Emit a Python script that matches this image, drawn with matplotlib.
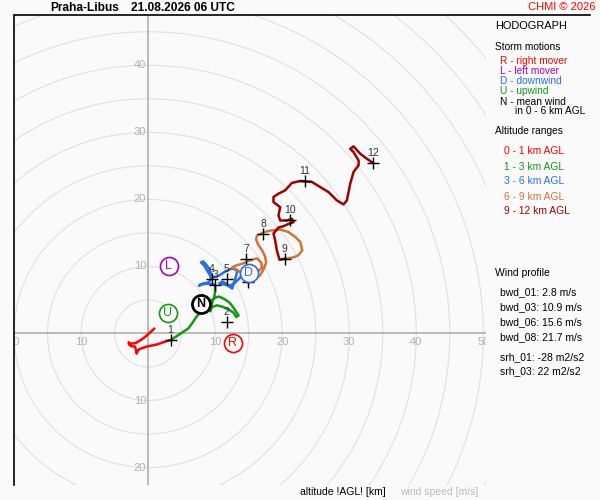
import matplotlib
matplotlib.use("Agg")
import matplotlib.pyplot as plt
from matplotlib.lines import Line2D

plt.rcParams['font.family'] = ['Liberation Sans', 'DejaVu Sans']

# hodograph trace per altitude layer, u / v in m/s
u_0_1 = [0.9, 0.3, -0.2, -0.75, -1.2, -1.8, -2.2, -2.7, -2.9, -2.85, -2.5, -1.95,
         -1.8, -1.7, -1.5, -1.2, -0.2, 0.55, 1.3, 2.3, 3.4]
v_0_1 = [0.7, 0.15, -0.3, -0.75, -1.05, -1.4, -1.5, -1.5, -1.3, -1.65, -1.9, -1.95,
         -2.5, -3.0, -2.5, -2.3, -1.95, -1.8, -1.65, -1.3, -0.95]

u_1_3 = [3.4, 4.2, 5.1, 6.0, 6.55, 7.15, 7.75, 8.5, 8.95, 9.4, 10.0, 10.6, 11.35,
         12.1, 12.55, 13.0, 13.5, 13.15, 12.7, 11.95, 11.2, 10.3, 9.55, 9.25, 9.4,
         9.55, 9.85, 10.0, 10.0]
v_1_3 = [-0.95, -0.45, 0.15, 0.75, 1.5, 2.4, 3.15, 3.9, 4.5, 4.9, 5.35, 5.5, 5.15,
         4.65, 4.1, 3.45, 2.7, 2.45, 3.15, 3.6, 3.95, 4.2, 3.95, 3.3, 4.05,
         4.6, 5.35, 6.25, 7.15]

u_3_6 = [10.0, 9.7, 8.5, 7.75, 7.6, 8.2, 8.95, 9.4, 9.25, 8.8, 8.35, 7.9, 8.2, 8.65,
         9.1, 9.4, 9.55, 10.15, 10.6, 11.05, 11.8, 12.55, 13.3, 13.15, 12.85, 12.55,
         12.1, 11.65, 11.05, 10.6, 11.35, 12.25, 13.0, 13.75, 14.05, 14.6, 14.9, 14.9]
v_3_6 = [7.15, 7.4, 7.4, 7.3, 7.1, 7.45, 7.6, 8.05, 8.65, 9.4, 10.15, 10.6, 10.75, 10.3,
         9.7, 8.95, 8.35, 8.5, 8.65, 8.95, 9.4, 9.7, 9.4, 8.65, 7.75, 6.7,
         7.0, 7.45, 7.75, 7.45, 7.3, 7.15, 7.6, 8.35, 9.1, 8.8, 7.9, 7.6]

u_6_9 = [14.9, 14.35, 13.45, 12.55, 13.15, 14.2, 15.2, 16.25, 16.85, 17.0, 16.4, 15.95,
         16.7, 17.3, 17.6, 17.45, 17.0, 16.4, 16.1, 16.25, 17.15, 18.2, 19.7, 20.9,
         21.95, 22.7, 23.0, 22.4, 21.65, 20.9, 20.45]
v_6_9 = [7.6, 8.5, 9.4, 9.85, 10.15, 10.45, 10.9, 11.2, 10.6, 9.85, 9.25, 8.2,
         8.65, 9.7, 10.6, 11.5, 12.4, 13.3, 14.05, 14.6, 15.05, 15.35, 15.5, 15.15,
         14.4, 13.65, 12.4, 11.65, 11.35, 11.2, 11.15]

u_9_12 = [20.45, 19.6, 19.2, 18.95, 18.7, 19.45, 20.2, 20.95, 21.7, 21.45, 20.7, 19.7,
          19.45, 19.7, 18.7, 18.7, 19.45, 20.45, 21.45, 22.7, 24.45, 25.65, 26.9,
          28.15, 29.15, 29.65, 30.15, 30.65, 31.4, 31.4, 30.65, 30.15, 30.65, 31.65,
          32.65, 33.6]
v_9_12 = [11.15, 11.0, 12.4, 13.9, 14.9, 15.8, 16.0, 16.35, 16.6, 17.1, 16.85, 16.85,
          17.6, 18.85, 19.6, 20.35, 20.85, 21.35, 22.45, 22.75, 22.6, 21.85, 21.1,
          19.85, 19.25, 19.85, 22.35, 24.1, 25.1, 25.8, 27.05, 27.55, 27.9, 26.8,
          26.05, 25.4]

layers = [
    (u_0_1, v_0_1, '#ff0000'),
    (u_1_3, v_1_3, '#119911'),
    (u_3_6, v_3_6, '#2a6fe0'),
    (u_6_9, v_6_9, '#d27438'),
    (u_9_12, v_9_12, '#a00000'),
]

# km markers
km_labels = ['1', '2', '3', '4', '5', '6', '7', '8', '9', '10', '11', '12']
km_u = [3.36, 11.75, 10.0, 9.5, 11.7, 14.9, 14.6, 17.2, 20.4, 21.2, 23.4, 33.6]
km_v = [-0.94, 1.69, 7.16, 8.06, 8.06, 7.66, 11.15, 14.8, 11.15, 16.9, 22.7, 25.4]

# storm motions
storm_letters = ['R', 'L', 'D', 'U', 'N']
storm_u = [12.6, 3.05, 15.0, 2.95, 7.85]
storm_v = [-1.4, 10.1, 9.05, 3.05, 4.35]
storm_colors = ['#ff0000', '#aa00bb', '#2a6fe0', '#119911', '#000000']

ring_speeds = [5, 10, 15, 20, 25, 30, 35, 40, 45, 50, 55, 60, 65, 70, 75, 80]
x_tick_vals = [-20, -10, 10, 20, 30, 40, 50]
y_tick_vals = [-20, -10, 10, 20, 30, 40]

bg = '#fafafa'
fig = plt.figure(figsize=(6, 5), dpi=100, facecolor=bg)
ax = fig.add_axes([14 / 600, 1 - 485 / 500, 472 / 600, 470 / 500])
ax.set_facecolor(bg)
ax.set_xlim(-20, 50.4)
ax.set_ylim(-22.6, 47.5)
ax.set_xticks([])
ax.set_yticks([])
for side in ['top', 'right', 'bottom']:
    ax.spines[side].set_visible(False)
ax.spines['left'].set_color('black')
ax.spines['left'].set_linewidth(1.2)

for r in ring_speeds:
    ax.add_patch(plt.Circle((0, 0), r, fill=False, ec='#e0e0e0', lw=0.8, zorder=1))
ax.axhline(0, color='#a8a8a8', lw=1.1, zorder=2)
ax.axvline(0, color='#a8a8a8', lw=1.1, zorder=2)

for x in x_tick_vals:
    ax.annotate(str(abs(x)), (x, 0), xytext=(0, -4), textcoords='offset pixels',
                ha='center', va='top', fontsize=8, color='#b0b0b0',
                annotation_clip=False, clip_on=True, zorder=2)
for y in y_tick_vals:
    ax.annotate(str(abs(y)), (0, y), xytext=(-2, 0), textcoords='offset pixels',
                ha='right', va='center', fontsize=8, color='#b0b0b0', zorder=2)

for u, v, c in layers:
    ax.plot(u, v, color=c, lw=1.8, zorder=4, solid_joinstyle='round')

ax.plot(km_u, km_v, ls='none', marker='+', ms=8.5, mew=1.0, color='black', zorder=5)
for lab, u, v in zip(km_labels, km_u, km_v):
    ax.annotate(lab, (u, v), xytext=(0, 5), textcoords='offset pixels',
                ha='center', va='bottom', fontsize=7.5, color='#333333', zorder=5)

for lab, u, v, c in zip(storm_letters, storm_u, storm_v, storm_colors):
    ew = 2.0 if lab == 'N' else 1.2
    ax.plot(u, v, marker='o', ms=13, mfc='white', mec=c, mew=ew, zorder=6)
    ax.text(u, v, lab, ha='center', va='center', fontsize=9,
            fontweight='bold' if lab == 'N' else 'normal', color=c, zorder=7)

# frame line along the top
fig.add_artist(Line2D([15 / 600, 590 / 600], [1 - 15 / 500, 1 - 15 / 500],
                      color='black', lw=1.2))


def ftext(px, py, s, **kw):
    fig.text(px / 600, 1 - py / 500, s, va='center', **kw)


ftext(50, 8, 'Praha-Libus', fontsize=8.6, fontweight='bold')
ftext(131, 8, '21.08.2026 06 UTC', fontsize=8.6, fontweight='bold')
ftext(595, 7, 'CHMI \u00a9 2026', fontsize=8, color='#ff0000', ha='right')

ftext(495, 26, 'HODOGRAPH', fontsize=7.9)
ftext(495, 46.5, 'Storm motions', fontsize=7.3)
ftext(500.5, 61.5, 'R - right mover', fontsize=7.3, color='#ff0000')
ftext(500.5, 71.5, 'L - left mover', fontsize=7.3, color='#aa00bb')
ftext(500.5, 81.5, 'D - downwind', fontsize=7.3, color='#2a6fe0')
ftext(500.5, 91.5, 'U - upwind', fontsize=7.3, color='#119911')
ftext(500.5, 101.5, 'N - mean wind', fontsize=7.3)
ftext(515, 111.5, 'in 0 - 6 km AGL', fontsize=7.3)

ftext(495, 131.5, 'Altitude ranges', fontsize=7.3)
alt_ranges = ['0 - 1 km AGL', '1 - 3 km AGL', '3 - 6 km AGL', '6 - 9 km AGL', '9 - 12 km AGL']
alt_y = [151.5, 166.5, 181.5, 196.5, 211.5]
for s, y, (_, _, c) in zip(alt_ranges, alt_y, layers):
    ftext(504.5, y, s, fontsize=7.4, color=c)

ftext(495, 272.5, 'Wind profile', fontsize=7.5)
profile_lines = ['bwd_01: 2.8 m/s', 'bwd_03: 10.9 m/s', 'bwd_06: 15.6 m/s',
                 'bwd_08: 21.7 m/s', 'srh_01: -28 m2/s2', 'srh_03: 22 m2/s2']
profile_y = [292.5, 307.5, 322, 337, 357, 371.5]
for s, y in zip(profile_lines, profile_y):
    ftext(500, y, s, fontsize=7.5)

ftext(300, 492, 'altitude !AGL! [km]', fontsize=7.5)
ftext(400, 492, 'wind speed [m/s]', fontsize=7.5, color='#bbbbbb')

fig.savefig('out.png', dpi=100, facecolor=bg)
